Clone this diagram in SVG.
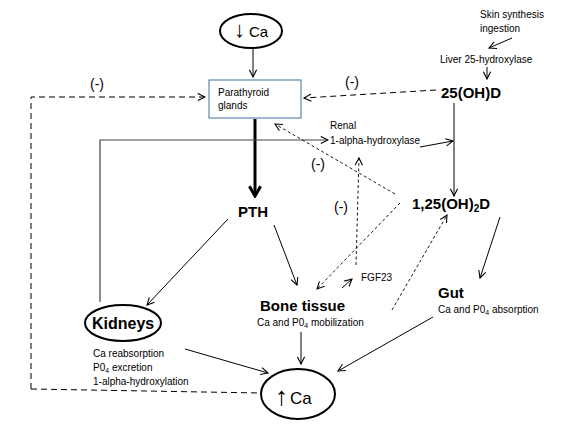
<svg xmlns="http://www.w3.org/2000/svg" width="575" height="435" viewBox="0 0 575 435">
<defs>
<style>
text{font-family:"Liberation Sans",Arial,sans-serif;fill:#000}
.s{font-size:10px}
.b{font-size:15px;font-weight:bold}
.m{font-size:14px}
.ln{fill:none;stroke:#000;stroke-width:1}
.dl{fill:none;stroke:#000;stroke-width:1;stroke-dasharray:6,4}
.df{fill:none;stroke:#000;stroke-width:0.9;stroke-dasharray:3,2.5}
.el{fill:#fff;stroke:#000;stroke-width:2}
</style>
<marker id="a" viewBox="0 0 10 10" refX="9" refY="5" markerWidth="9" markerHeight="9" markerUnits="userSpaceOnUse" orient="auto">
<path d="M1,1 L9,5 L1,9" fill="none" stroke="#000" stroke-width="1.2"/>
</marker>
<marker id="at" viewBox="0 0 10 10" refX="8.5" refY="5" markerWidth="14" markerHeight="14" markerUnits="userSpaceOnUse" orient="auto">
<path d="M1.5,1 L8.5,5 L1.5,9" fill="none" stroke="#000" stroke-width="2.2"/>
</marker>
</defs>
<rect width="575" height="435" fill="#fff"/>

<g id="connectors">
<line class="ln" x1="253" y1="49" x2="253" y2="77" marker-end="url(#a)"/>
<line x1="255" y1="119" x2="255" y2="196" stroke="#000" stroke-width="3" marker-end="url(#at)"/>
<polyline class="dl" points="31,389 31,97 205,97" marker-end="url(#a)"/>
<line class="dl" x1="31" y1="389" x2="261" y2="393"/>
<line class="dl" x1="436" y1="90" x2="304" y2="98" marker-end="url(#a)"/>
<line class="ln" x1="512" y1="38" x2="489" y2="48" marker-end="url(#a)"/>
<line class="ln" x1="487" y1="67" x2="487" y2="79" marker-end="url(#a)"/>
<line class="ln" x1="454" y1="103" x2="454" y2="196" marker-end="url(#a)"/>
<polyline fill="none" stroke="#444" stroke-width="1.2" points="100,302 100,140 328,140" marker-end="url(#a)"/>
<line class="ln" x1="420" y1="147" x2="453" y2="141" marker-end="url(#a)"/>
<line class="df" x1="395" y1="194" x2="275" y2="124" marker-end="url(#a)"/>
<line class="df" x1="400" y1="203" x2="317" y2="289" marker-end="url(#a)"/>
<line class="df" x1="356" y1="265" x2="359" y2="158" marker-end="url(#a)"/>
<line class="ln" x1="342" y1="288" x2="352" y2="279" marker-end="url(#a)"/>
<line class="df" x1="392" y1="310" x2="447" y2="215" marker-end="url(#a)"/>
<line class="ln" x1="500" y1="217" x2="480" y2="278" marker-end="url(#a)"/>
<line class="ln" x1="433" y1="317" x2="338" y2="371" marker-end="url(#a)"/>
<line class="ln" x1="228" y1="219" x2="147" y2="305" marker-end="url(#a)"/>
<line class="ln" x1="274" y1="225" x2="297" y2="285" marker-end="url(#a)"/>
<line class="ln" x1="301" y1="332" x2="301" y2="364" marker-end="url(#a)"/>
<line class="ln" x1="185" y1="349" x2="268" y2="373" marker-end="url(#a)"/>
<text class="m" x="97" y="89" text-anchor="middle">(-)</text>
<text class="m" x="352" y="87" text-anchor="middle">(-)</text>
<text class="m" x="318" y="169" text-anchor="middle">(-)</text>
<text class="m" x="341" y="212" text-anchor="middle">(-)</text>
</g>

<g id="lowCa">
<ellipse class="el" cx="251" cy="31" rx="31" ry="17"/>
<text y="37" style="font-size:15px"><tspan x="234" style="font-size:22px">↓</tspan><tspan x="249">Ca</tspan></text>
</g>

<g id="parathyroid">
<rect x="209" y="80" width="92" height="38" fill="#fff" stroke="#41719C" stroke-width="1"/>
<text class="s" x="218" y="96">Parathyroid</text>
<text class="s" x="218" y="109">glands</text>
</g>

<g id="skin">
<text class="s" x="480" y="18">Skin synthesis</text>
<text class="s" x="480" y="32">ingestion</text>
</g>

<g id="liver">
<text class="s" x="440" y="63">Liver 25-hydroxylase</text>
</g>

<g id="d25">
<text class="b" x="441" y="98">25(OH)D</text>
</g>

<g id="renal">
<text class="s" x="330" y="129">Renal</text>
<text class="s" x="330" y="144">1-alpha-hydroxylase</text>
</g>

<g id="pth">
<text class="b" x="238" y="217">PTH</text>
</g>

<g id="d125">
<text class="b" x="412" y="209">1,25(OH)<tspan style="font-size:10px" dy="3">2</tspan><tspan dy="-3">D</tspan></text>
</g>

<g id="fgf23">
<text class="s" x="361" y="281">FGF23</text>
</g>

<g id="bone">
<text class="b" x="260" y="311">Bone tissue</text>
<text class="s" x="257" y="326">Ca and P0<tspan style="font-size:7px" dy="2">4</tspan><tspan dy="-2"> mobilization</tspan></text>
</g>

<g id="gut">
<text class="b" x="438" y="298">Gut</text>
<text class="s" x="438" y="313">Ca and P0<tspan style="font-size:7px" dy="2">4</tspan><tspan dy="-2"> absorption</tspan></text>
</g>

<g id="kidneys">
<ellipse class="el" cx="123" cy="323" rx="38" ry="18"/>
<text x="92" y="329" style="font-size:16px;font-weight:bold">Kidneys</text>
<text class="s" x="93" y="357">Ca reabsorption</text>
<text class="s" x="93" y="371">P0<tspan style="font-size:7px" dy="2">4</tspan><tspan dy="-2"> excretion</tspan></text>
<text class="s" x="93" y="385">1-alpha-hydroxylation</text>
</g>

<g id="highCa">
<ellipse class="el" cx="298" cy="394" rx="37" ry="25"/>
<text y="404" style="font-size:17px"><tspan x="275" y="405" style="font-size:26px">↑</tspan><tspan x="290" y="404">Ca</tspan></text>
</g>
</svg>
